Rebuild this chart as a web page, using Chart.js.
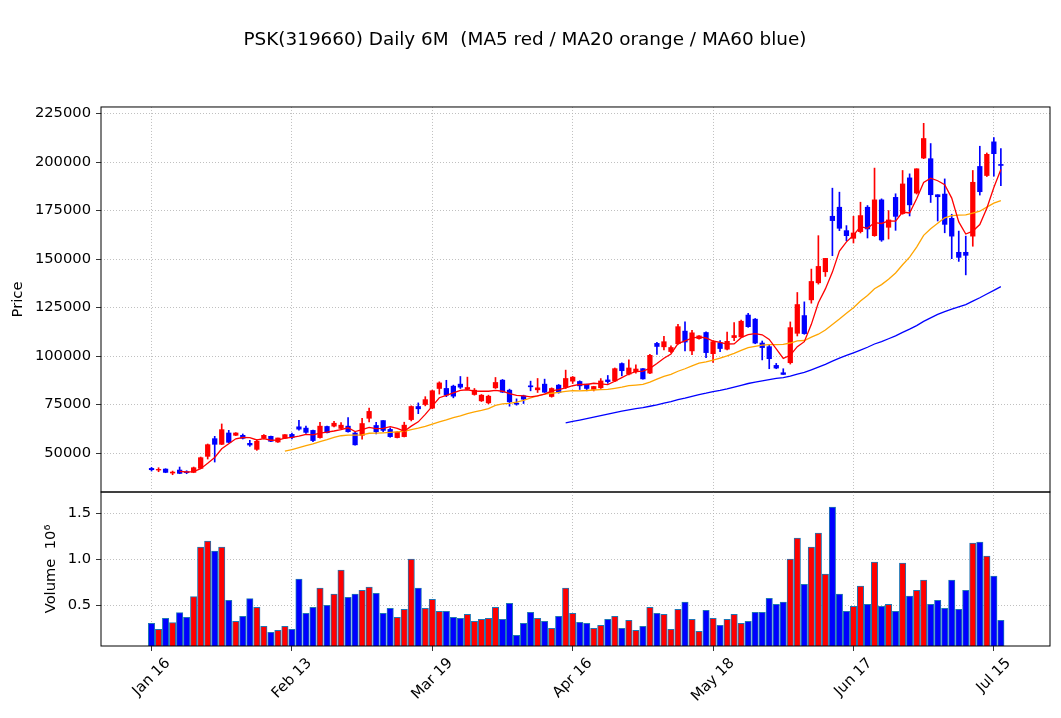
<!DOCTYPE html>
<html>
<head>
<meta charset="utf-8">
<script src="https://cdn.jsdelivr.net/npm/chart.js@4.4.1/dist/chart.umd.min.js"></script>
<style>
  html, body { margin: 0; padding: 0; background: #fff; }
  #wrap { position: relative; width: 1061px; height: 718px; }
  #pricebox { position: absolute; left: 0; top: 0; width: 1061px; height: 500px; }
  #volbox { position: absolute; left: 0; top: 480px; width: 1061px; height: 238px; }
</style>
</head>
<body>
<div id="wrap">
  <div id="pricebox"><canvas id="price"></canvas></div>
  <div id="volbox"><canvas id="volume"></canvas></div>
</div>
<script>
const titleText = "PSK(319660) Daily 6M  (MA5 red / MA20 orange / MA60 blue)";

// trading-day index of each labelled tick
const tickIndex = [0, 20, 40, 60, 80, 100, 120];
const tickLabels = ["Jan 16", "Feb 13", "Mar 19", "Apr 16", "May 18", "Jun 17", "Jul 15"];
const priceTicks = [50000, 75000, 100000, 125000, 150000, 175000, 200000, 225000];
const volTicks = [500000, 1000000, 1500000];

const opens = [42080,41220,41730,39670,41220,40360,40010,42080,48280,57400,
  54480,60330,59130,59130,54990,51890,57580,58610,55680,57580,
  59600,63500,62840,61650,57940,63680,63850,62670,63850,60300,
  59120,67900,64190,66720,62160,57940,58450,67230,73980,75000,
  73140,83270,83300,84470,85500,82920,80170,76890,75860,83610,
  87570,82400,75690,79480,84640,82580,85500,79130,84990,83780,
  87050,86880,85500,82800,83630,87680,87150,96130,90670,91900,
  93490,91200,106510,104750,102290,106340,112850,102640,108980,112140,
  101230,106860,103520,109500,109860,121120,119010,106700,104830,95170,
  91380,96550,111720,120860,128960,137760,143440,172060,176720,164650,
  160690,164130,176720,162060,180510,166370,181800,173440,191840,184030,
  202080,201740,183160,183510,171010,153480,153480,161810,197740,193060,
  210420,198780];
const highs = [42600,42420,41900,40700,42770,40870,42770,47930,54650,58610,
  64980,61710,60500,59820,56540,56890,59470,58780,57750,59470,
  60300,66900,63850,61820,65880,63850,66380,65710,68240,60810,
  67900,73140,65880,66720,63000,61000,65880,74320,75840,79050,
  82430,86700,87500,84990,89460,89120,83270,80170,79820,88950,
  87920,82920,77930,79820,87050,88430,88090,83610,85330,92740,
  89460,87220,85500,84400,88380,89970,93840,96480,98060,95420,
  93490,100880,107040,110210,105280,116370,117600,113200,110560,112500,
  107920,107920,112320,117250,118480,122000,119360,107760,105520,96210,
  93450,117580,132760,127930,144820,162060,150340,186540,184480,167240,
  172060,179300,177580,196890,181030,174990,183650,195660,193920,196530,
  219960,209550,183160,191320,173090,164410,161810,195660,208160,204690,
  212670,206940];
const lows = [40700,40360,39840,38810,39330,39330,39840,41900,46900,45350,
  54300,55340,58960,57230,53440,51380,57230,55860,55510,57410,
  57300,61800,60130,55910,57600,60300,63510,62330,60810,54050,
  57090,66050,59800,61000,58110,57770,58280,66550,70270,74320,
  72800,80400,79050,78440,83270,82750,79820,76550,75340,83270,
  81200,74140,74660,75520,82060,81200,81200,78780,80850,83270,
  85850,82750,82060,82000,83280,85920,86800,89790,90320,91200,
  88030,90850,100880,103170,101760,105980,102640,100700,108630,99120,
  96660,102290,103170,107920,109680,114780,106340,98000,93450,93450,
  90520,95860,110340,111210,127240,137070,141030,151720,164650,159480,
  158270,163440,160860,161720,159130,160340,164800,173090,172220,183510,
  201740,179170,169620,163540,150180,148790,141840,156600,182990,192540,
  192710,187850];
const closes = [41390,41560,40010,40180,39500,39840,42420,47590,54300,54480,
  62050,55510,60330,57580,54130,56030,59130,56030,57750,59470,
  58000,62300,60640,56420,63850,60470,65370,64360,60980,54220,
  65200,71450,60980,61650,58450,60810,64360,73980,72800,77530,
  82090,86150,79850,79300,83950,83780,82400,79820,79300,86370,
  81370,76380,75170,77760,84130,83610,81370,83270,81200,88430,
  89120,84640,83270,84300,87150,86800,93490,92430,93840,93310,
  88210,100350,104930,107390,104400,115140,107220,111970,110380,101760,
  107390,103870,107570,110560,117950,115140,106690,104350,98620,93790,
  90520,114650,126550,111550,138450,146200,150340,169820,165860,162060,
  163440,172410,165510,180510,159820,170170,172000,188720,177950,196530,
  212150,183160,182120,167880,161810,150870,151910,189580,184720,203990,
  204340,198260];
const volumes = [304000,239000,359000,312000,420000,370000,594000,1130000,1196000,1087000,
  1130000,554000,326000,380000,572000,478000,272000,207000,228000,272000,
  239000,783000,413000,478000,685000,500000,620000,880000,587000,620000,
  663000,696000,630000,413000,467000,370000,457000,1000000,685000,467000,
  565000,435000,435000,370000,359000,402000,326000,348000,359000,478000,
  348000,522000,174000,304000,424000,359000,326000,250000,380000,685000,
  413000,315000,304000,250000,283000,348000,380000,250000,337000,228000,
  272000,478000,413000,402000,239000,457000,533000,348000,217000,446000,
  359000,283000,348000,402000,304000,326000,424000,424000,576000,511000,
  533000,1000000,1228000,728000,1130000,1283000,837000,1565000,620000,435000,
  489000,707000,511000,967000,489000,511000,435000,957000,598000,663000,
  772000,511000,554000,467000,772000,457000,663000,1174000,1185000,1033000,
  815000,337000];

const upColor = '#ff0000';
const downColor = '#0000ff';
const fontFamily = "'DejaVu Sans', sans-serif";
const tickFontSize = 14.7;

function movingAvg(arr, n) {
  const out = [];
  for (let i = n - 1; i < arr.length; i++) {
    let s = 0;
    for (let j = i - n + 1; j <= i; j++) s += arr[j];
    out.push({x: i, y: s / n});
  }
  return out;
}

const colors = closes.map((c, i) => c >= opens[i] ? upColor : downColor);
const bodies = opens.map((o, i) => ({x: i, y: [o, closes[i]]}));
const wicks = lows.map((l, i) => ({x: i, y: [l, highs[i]]}));
const volBars = volumes.map((v, i) => ({x: i, y: v}));

// full black frame round each panel
const framePlugin = {
  id: 'frame',
  afterDraw(chart) {
    const a = chart.chartArea, ctx = chart.ctx;
    ctx.save();
    ctx.strokeStyle = '#000';
    ctx.lineWidth = 1;
    ctx.strokeRect(a.left, a.top, a.right - a.left, a.bottom - a.top);
    ctx.restore();
  }
};

// matplotlib-like rotated date labels, centred under their ticks
const dateLabelPlugin = {
  id: 'dateLabels',
  afterDraw(chart) {
    const ctx = chart.ctx, xs = chart.scales.x, a = chart.chartArea;
    ctx.save();
    ctx.font = tickFontSize + 'px ' + fontFamily;
    ctx.fillStyle = '#000';
    ctx.textAlign = 'center';
    ctx.textBaseline = 'middle';
    const h = tickFontSize * 1.16;
    tickIndex.forEach((v, k) => {
      const txt = tickLabels[k];
      const w = ctx.measureText(txt).width;
      const px = xs.getPixelForValue(v);
      const cy = a.bottom + 9 + (w + h) / (2 * Math.SQRT2);
      ctx.save();
      ctx.translate(px, cy);
      ctx.rotate(-Math.PI / 4);
      ctx.fillText(txt, 0, 0);
      ctx.restore();
    });
    ctx.restore();
  }
};

const gridOpts = {
  color: '#b0b0b0', lineWidth: 0.8, offset: false,
  tickLength: 5, tickColor: '#000', tickWidth: 0.8, tickBorderDash: []
};
const borderOpts = { display: false, dash: [1, 2] };

function xScale(showTicks, height) {
  return {
    type: 'linear', min: -7.2, max: 128, offset: false,
    afterBuildTicks: s => { s.ticks = tickIndex.map(v => ({value: v})); },
    afterFit: s => { s.height = height; s.paddingLeft = 0; s.paddingRight = 0; },
    ticks: { display: false },
    grid: Object.assign({}, gridOpts, { drawTicks: showTicks }),
    border: borderOpts
  };
}

// y axis with a fixed width and no extra room claimed for end labels
function fixY(s) {
  s.width = 101;
  s.paddingTop = 0;
  s.paddingBottom = 0;
}

new Chart(document.getElementById('price'), {
  type: 'bar',
  data: {
    datasets: [
      { type: 'line', label: 'MA5', data: movingAvg(closes, 5), borderColor: '#ff0000',
        borderWidth: 1.3, pointRadius: 0, tension: 0, order: 0 },
      { type: 'line', label: 'MA20', data: movingAvg(closes, 20), borderColor: '#ffa500',
        borderWidth: 1.3, pointRadius: 0, tension: 0, order: 0 },
      { type: 'line', label: 'MA60', data: movingAvg(closes, 60), borderColor: '#0000ff',
        borderWidth: 1.3, pointRadius: 0, tension: 0, order: 0 },
      { label: 'wick', data: wicks, backgroundColor: colors, barThickness: 1,
        grouped: false, borderWidth: 0, order: 2 },
      { label: 'body', data: bodies, backgroundColor: colors, barThickness: 4.6,
        grouped: false, borderWidth: 0, order: 1 }
    ]
  },
  options: {
    responsive: true, maintainAspectRatio: false, animation: false,
    layout: { padding: { left: 0, right: 11, top: 0, bottom: 8 } },
    plugins: {
      legend: { display: false },
      tooltip: { enabled: false },
      title: {
        display: true, text: titleText, color: '#000',
        font: { family: fontFamily, size: 18.4, weight: 'normal', lineHeight: 1.2 },
        padding: { top: 29.5, bottom: 55.4 }
      }
    },
    scales: {
      x: xScale(false, 0),
      y: {
        min: 29900, max: 228400,
        afterBuildTicks: s => { s.ticks = priceTicks.map(v => ({value: v})); },
        afterFit: fixY,
        ticks: { font: { family: fontFamily, size: tickFontSize }, color: '#000', padding: 5,
          callback: v => String(v) },
        grid: gridOpts,
        border: borderOpts,
        title: { display: true, text: 'Price', color: '#000',
          font: { family: fontFamily, size: tickFontSize }, padding: { top: 9.5, bottom: 0 } }
      }
    }
  },
  plugins: [framePlugin]
});

new Chart(document.getElementById('volume'), {
  type: 'bar',
  data: {
    datasets: [
      { label: 'Volume', data: volBars, backgroundColor: colors, borderColor: '#1f77b4',
        borderWidth: 1, borderSkipped: false, barThickness: 6.4, grouped: false }
    ]
  },
  options: {
    responsive: true, maintainAspectRatio: false, animation: false,
    layout: { padding: { left: 0, right: 11, top: 12, bottom: 0 } },
    plugins: { legend: { display: false }, tooltip: { enabled: false } },
    scales: {
      x: xScale(true, 72),
      y: {
        min: 58000, max: 1728000,
        afterBuildTicks: s => { s.ticks = volTicks.map(v => ({value: v})); },
        afterFit: fixY,
        ticks: { font: { family: fontFamily, size: tickFontSize }, color: '#000', padding: 5,
          callback: v => (v / 1e6).toFixed(1) },
        grid: gridOpts,
        border: borderOpts,
        title: { display: true, text: 'Volume  10\u2076', color: '#000',
          font: { family: fontFamily, size: tickFontSize }, padding: { top: 42, bottom: 0 } }
      }
    }
  },
  plugins: [framePlugin, dateLabelPlugin]
});
</script>
</body>
</html>
